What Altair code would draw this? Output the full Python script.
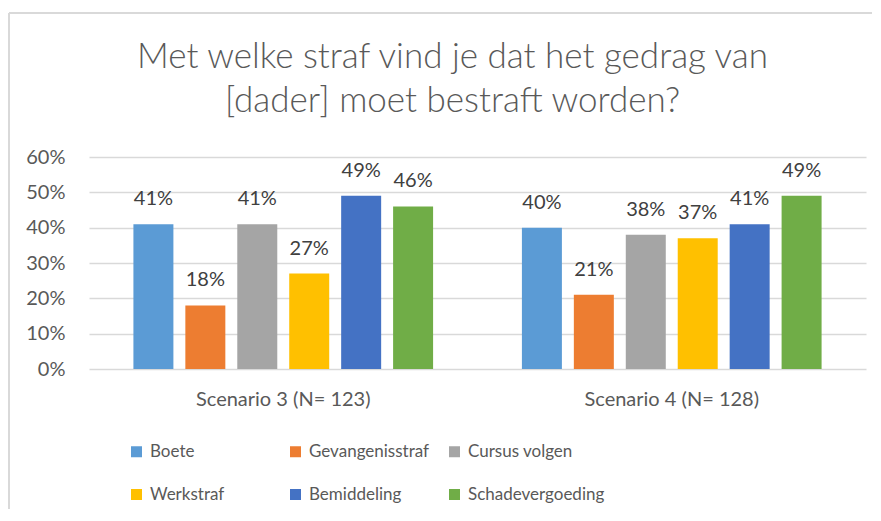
import altair as alt
import pandas as pd

FONT = "Lato"

scenarios = ["Scenario 3 (N= 123)", "Scenario 4 (N= 128)"]
categories = ["Boete", "Gevangenisstraf", "Cursus volgen", "Werkstraf", "Bemiddeling", "Schadevergoeding"]
scenario3 = [0.41, 0.18, 0.41, 0.27, 0.49, 0.46]
scenario4 = [0.40, 0.21, 0.38, 0.37, 0.41, 0.49]
colors = ["#5B9BD5", "#ED7D31", "#A5A5A5", "#FFC000", "#4472C4", "#70AD47"]
y_ticks = [0, 0.1, 0.2, 0.3, 0.4, 0.5, 0.6]

rows = []
for s, vals in zip(scenarios, [scenario3, scenario4]):
    for c, v in zip(categories, vals):
        rows.append({"scenario": s, "category": c, "value": v})
df = pd.DataFrame(rows)

W, H = 777, 212

x = alt.X("scenario:N", sort=scenarios, title=None,
          scale=alt.Scale(paddingInner=0, paddingOuter=0),
          axis=alt.Axis(labelAngle=0, ticks=False, domain=False, labelPadding=20,
                        labelFontSize=20, labelColor="#595959", labelFont=FONT))
xo = alt.XOffset("category:N", sort=categories,
                 scale=alt.Scale(paddingInner=0.23, paddingOuter=0.855))
y = alt.Y("value:Q", title=None, scale=alt.Scale(domain=[0, 0.6]),
          axis=alt.Axis(format=".0%", values=y_ticks, domain=False, ticks=False,
                        labelPadding=24, labelFontSize=20, labelColor="#595959",
                        labelFont=FONT, gridColor="#d9d9d9", gridWidth=1.3))
color = alt.Color("category:N", sort=categories,
                  scale=alt.Scale(domain=categories, range=colors),
                  legend=alt.Legend(title=None, orient="none", legendX=39, legendY=286,
                                    direction="horizontal",
                                    columns=3, gridAlign="all", symbolType="square",
                                    symbolSize=121, symbolStrokeWidth=0, labelFontSize=17,
                                    labelFont=FONT, labelColor="#595959", columnPadding=0,
                                    rowPadding=25, labelOffset=5, labelLimit=400))

base = alt.Chart(df)
bars = base.mark_bar().encode(x=x, xOffset=xo, y=y, color=color)
labels = base.mark_text(baseline="middle", dy=-25, fontSize=20, font=FONT, color="#404040").encode(
    x=x, xOffset=xo, y=y, text=alt.Text("value:Q", format=".0%"))

border_df = pd.DataFrame({"k": [0]})
left_border = alt.Chart(border_df).mark_rule(color="#d9d9d9", strokeWidth=2).encode(
    x=alt.value(-80), y=alt.value(-144), y2=alt.value(H + 140))
top_border = alt.Chart(border_df).mark_rule(color="#d9d9d9", strokeWidth=2).encode(
    x=alt.value(-80), x2=alt.value(W + 6), y=alt.value(-144))

chart = alt.layer(left_border, top_border, bars, labels).properties(
    width=W, height=H,
    background="white",
    padding={"left": 0, "top": 4, "right": 0, "bottom": 0},
    title=alt.TitleParams(
        text=["Met welke straf vind je dat het gedrag van", "[dader] moet bestraft worden?"],
        fontSize=35, font=FONT, fontWeight=300, color="#595959", anchor="middle",
        frame="group", dx=-25, offset=-107, lineHeight=44),
).configure_view(stroke=None)

chart.save("out.html", embed_options={"renderer": "svg", "actions": False})
